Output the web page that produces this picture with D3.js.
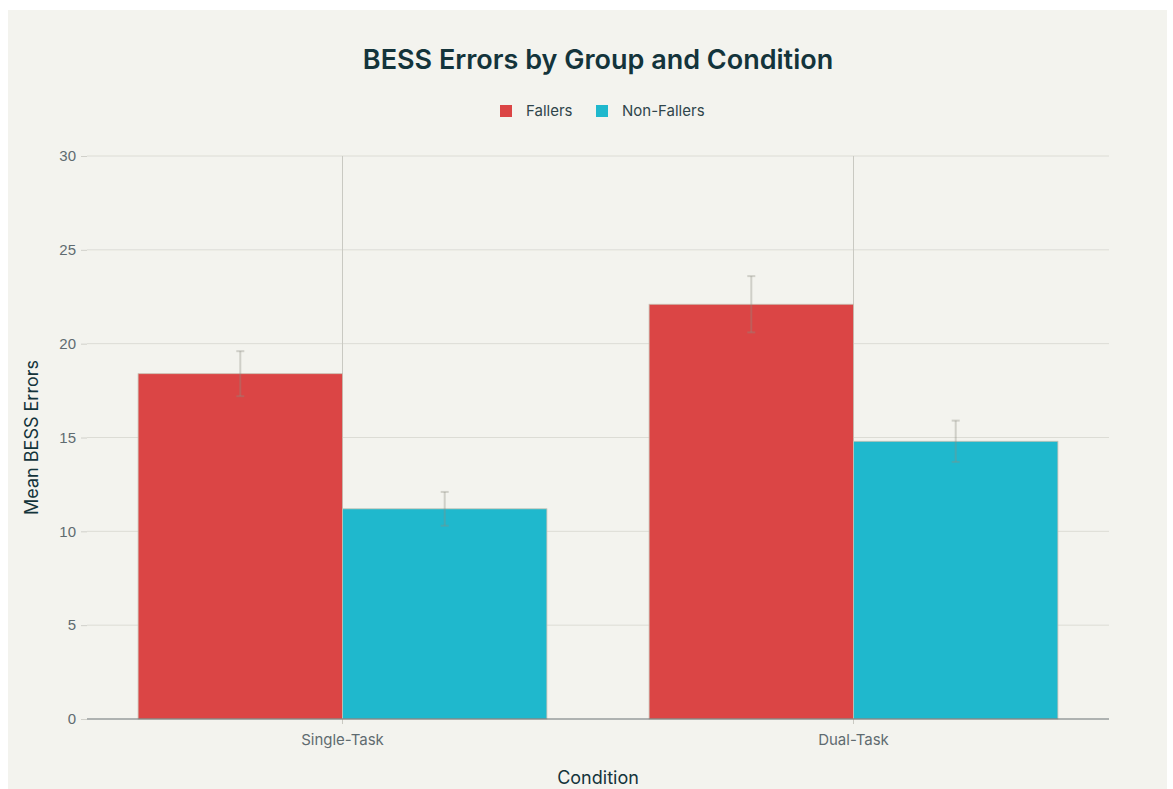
<!DOCTYPE html>
<html>
<head>
<meta charset="utf-8">
<script src="https://cdn.jsdelivr.net/npm/d3@7"></script>
<style>
  body { margin: 0; background: #ffffff; }
  svg { display: block; font-family: Inter, "Open Sans", sans-serif; }
</style>
</head>
<body>
<svg id="chart" width="1173" height="789"></svg>
<script>
// data
var conditions = ["Single-Task", "Dual-Task"];
var groups = ["Fallers", "Non-Fallers"];
var fallers = [18.4, 22.1];
var nonFallers = [11.2, 14.8];
var fallersErr = [1.2, 1.5];
var nonFallersErr = [0.9, 1.1];
var yTicks = [0, 5, 10, 15, 20, 25, 30];

var colors = ["#DB4545", "#1FB8CD"];
var values = [fallers, nonFallers];
var errors = [fallersErr, nonFallersErr];

var margin = { left: 87, right: 64, top: 156, bottom: 70 };
var W = 1173, H = 789;

var svg = d3.select("#chart");

// panel
svg.append("rect")
    .attr("x", 8).attr("y", 10)
    .attr("width", W - 14).attr("height", H - 10)
    .attr("fill", "#f3f3ee");

var x = d3.scaleBand()
    .domain(conditions)
    .range([margin.left, W - margin.right])
    .paddingInner(0).paddingOuter(0);

// bars take 0.8 of each band
var xInner = d3.scaleBand()
    .domain(groups)
    .range([x.bandwidth() * 0.1, x.bandwidth() * 0.9]);

var y = d3.scaleLinear()
    .domain([0, 30])
    .range([H - margin.bottom, margin.top]);

// horizontal grid
svg.append("g")
    .selectAll("line")
    .data(yTicks.slice(1))
    .enter().append("line")
    .attr("x1", margin.left).attr("x2", W - margin.right)
    .attr("y1", function(d) { return y(d); })
    .attr("y2", function(d) { return y(d); })
    .attr("stroke", "#dcdcd5").attr("stroke-width", 1);

// vertical grid at category centres
svg.append("g")
    .selectAll("line")
    .data(conditions)
    .enter().append("line")
    .attr("x1", function(d) { return x(d) + x.bandwidth() / 2; })
    .attr("x2", function(d) { return x(d) + x.bandwidth() / 2; })
    .attr("y1", margin.top).attr("y2", y(0) + 5)
    .attr("stroke", "#c9c9c2").attr("stroke-width", 1);

// y axis
var yAxis = svg.append("g")
    .attr("transform", "translate(" + margin.left + ",0)")
    .call(d3.axisLeft(y).tickValues(yTicks).tickSize(6).tickPadding(5));
yAxis.select(".domain").remove();
yAxis.selectAll(".tick line").attr("stroke", "#d0d0ca");
yAxis.selectAll("text")
    .attr("fill", "#5f6b70")
    .style("font-size", "15px");

// bars
var g = svg.selectAll(".cond")
    .data(conditions)
    .enter().append("g")
    .attr("class", "cond")
    .attr("transform", function(d) { return "translate(" + x(d) + ",0)"; });

groups.forEach(function(grp, gi) {
    g.append("rect")
        .attr("x", xInner(grp))
        .attr("y", function(d, i) { return y(values[gi][i]); })
        .attr("width", xInner.bandwidth())
        .attr("height", function(d, i) { return y(0) - y(values[gi][i]); })
        .attr("fill", colors[gi])
        .attr("stroke", "#c8c0b2")
        .attr("stroke-width", 0.8);
});

// error bars
groups.forEach(function(grp, gi) {
    var eb = g.append("g");
    var cx = xInner(grp) + xInner.bandwidth() / 2;
    eb.append("line")
        .attr("x1", cx).attr("x2", cx)
        .attr("y1", function(d, i) { return y(values[gi][i] + errors[gi][i]); })
        .attr("y2", function(d, i) { return y(values[gi][i] - errors[gi][i]); });
    eb.append("line")
        .attr("x1", cx - 4).attr("x2", cx + 4)
        .attr("y1", function(d, i) { return y(values[gi][i] + errors[gi][i]); })
        .attr("y2", function(d, i) { return y(values[gi][i] + errors[gi][i]); });
    eb.append("line")
        .attr("x1", cx - 4).attr("x2", cx + 4)
        .attr("y1", function(d, i) { return y(values[gi][i] - errors[gi][i]); })
        .attr("y2", function(d, i) { return y(values[gi][i] - errors[gi][i]); });
    eb.selectAll("line")
        .attr("stroke", "rgba(140,140,130,0.35)")
        .attr("stroke-width", 2);
});

// zero line
svg.append("line")
    .attr("x1", margin.left).attr("x2", W - margin.right)
    .attr("y1", y(0)).attr("y2", y(0))
    .attr("stroke", "#6b7275").attr("stroke-width", 1.2);

// x labels
svg.append("g")
    .selectAll("text")
    .data(conditions)
    .enter().append("text")
    .attr("x", function(d) { return x(d) + x.bandwidth() / 2; })
    .attr("y", y(0) + 26)
    .attr("text-anchor", "middle")
    .attr("fill", "#5f6b70")
    .style("font-size", "15px")
    .text(function(d) { return d; });

// axis titles
svg.append("text")
    .attr("x", (margin.left + W - margin.right) / 2)
    .attr("y", 784)
    .attr("text-anchor", "middle")
    .attr("fill", "#13343B")
    .style("font-size", "18px")
    .text("Condition");

svg.append("text")
    .attr("transform", "translate(38," + ((margin.top + y(0)) / 2) + ") rotate(-90)")
    .attr("text-anchor", "middle")
    .attr("fill", "#13343B")
    .style("font-size", "18px")
    .text("Mean BESS Errors");

// title
svg.append("text")
    .attr("x", 598).attr("y", 69)
    .attr("text-anchor", "middle")
    .attr("fill", "#13343B")
    .style("font-size", "27px")
    .style("font-weight", "600")
    .text("BESS Errors by Group and Condition");

// legend
var legendX = [500, 596];
var legend = svg.selectAll(".legend")
    .data(groups)
    .enter().append("g")
    .attr("class", "legend")
    .attr("transform", function(d, i) { return "translate(" + legendX[i] + ",105)"; });
legend.append("rect")
    .attr("width", 12).attr("height", 12)
    .attr("fill", function(d, i) { return colors[i]; });
legend.append("text")
    .attr("x", 26).attr("y", 11)
    .attr("fill", "#2f454b")
    .style("font-size", "15px")
    .text(function(d) { return d; });
</script>
</body>
</html>
